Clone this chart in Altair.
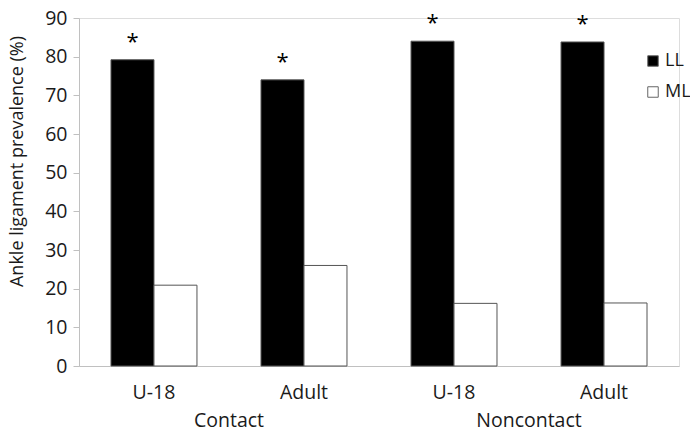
import altair as alt
import pandas as pd

groups = ["Contact", "Contact", "Noncontact", "Noncontact"]
ages = ["U-18", "Adult", "U-18", "Adult"]
series = ["LL", "ML"]
ll_values = [79.2, 74.0, 84.0, 83.8]
ml_values = [20.9, 26.0, 16.2, 16.3]
group_names = ["Contact", "Noncontact"]
group_centres = [1, 3]  # in units of the four category slots (0..4)
y_ticks = [0, 10, 20, 30, 40, 50, 60, 70, 80, 90]

FONT = "Open Sans"

keys = [g + "|" + a for g, a in zip(groups, ages)]
rows = []
for k, g, a, l, m in zip(keys, groups, ages, ll_values, ml_values):
    rows.append({"key": k, "group": g, "age": a, "series": "LL", "value": l})
    rows.append({"key": k, "group": g, "age": a, "series": "ML", "value": m})
df = pd.DataFrame(rows)
grp_df = pd.DataFrame({"group": group_names, "pos": group_centres})

x_axis = alt.Axis(
    title=None,
    labelExpr="split(datum.value, '|')[1]",
    ticks=False,
    labelAngle=0,
    domainColor="#c0c0c0",
    labelFontSize=19.5,
    labelPadding=17,
    labelColor="#1a1a1a",
    labelFont=FONT,
)
x_enc = alt.X("key:N", sort=keys,
              scale=alt.Scale(paddingInner=0.427, paddingOuter=0.2133),
              axis=x_axis)
xoff = alt.XOffset("series:N", sort=series, scale=alt.Scale(paddingInner=0, paddingOuter=0))
y_axis = alt.Axis(
    values=y_ticks,
    tickCount=10,
    labelOverlap=False,
    grid=False,
    tickColor="#c0c0c0",
    domainColor="#c0c0c0",
    tickSize=6,
    labelFontSize=19.5,
    labelPadding=6,
    labelColor="#1a1a1a",
    labelFont=FONT,
    title="Ankle ligament prevalence (%)",
    titleFontSize=18,
    titleFontWeight="normal",
    titleFont=FONT,
    titleColor="#1a1a1a",
    titleX=-62,
    titleY=143,
    titleBaseline="middle",
)
y_enc = alt.Y("value:Q", scale=alt.Scale(domain=[0, 90], nice=False), axis=y_axis)

bars = alt.Chart(df).mark_bar(stroke="#555555", strokeWidth=1).encode(
    x=x_enc,
    xOffset=xoff,
    y=y_enc,
    fill=alt.Fill(
        "series:N",
        sort=series,
        scale=alt.Scale(domain=series, range=["#000000", "#ffffff"]),
        legend=alt.Legend(
            title=None,
            orient="none",
            legendX=565,
            legendY=34,
            symbolType="square",
            symbolSize=110,
            symbolStrokeColor="#666666",
            symbolStrokeWidth=1,
            labelFontSize=18,
            labelFont=FONT,
            labelColor="#1a1a1a",
            labelOffset=3,
            rowPadding=13,
            padding=0,
        ),
    ),
)

stars = alt.Chart(df).transform_filter(alt.datum.series == "LL").mark_text(
    text="*", fontSize=22, baseline="bottom", dy=-6, font=FONT, color="#000000"
).encode(x=x_enc, xOffset=xoff, y=y_enc)

grp = alt.Chart(grp_df).mark_text(
    fontSize=19.5, font=FONT, color="#1a1a1a", baseline="alphabetic"
).encode(
    x=alt.X("pos:Q", scale=alt.Scale(domain=[0, 4]), axis=None),
    y=alt.value(409),
    text="group:N",
)

chart = (
    alt.layer(alt.layer(bars, stars), grp)
    .resolve_scale(x="independent")
    .properties(
        width=600,
        height=348,
        autosize=alt.AutoSizeParams(type="none"),
        padding={"left": 71, "top": 10, "right": 11, "bottom": 62},
    )
    .configure_view(stroke=None)
    .configure(background="white")
)

chart.save("out.html", embed_options={"renderer": "svg", "actions": False})
